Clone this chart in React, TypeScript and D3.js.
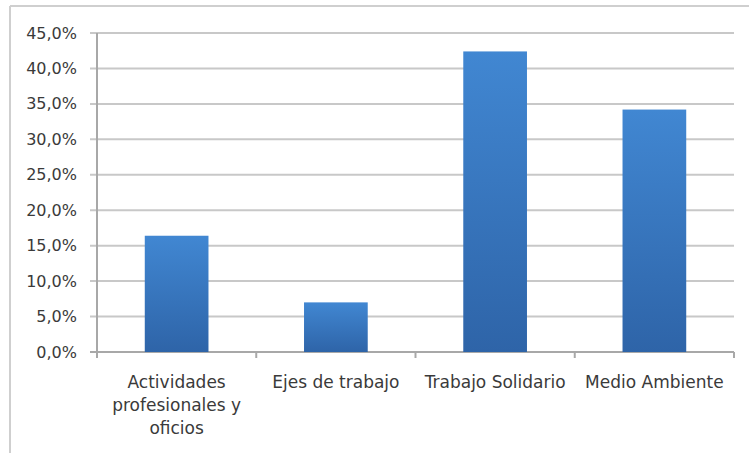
import React from "react";
import * as d3 from "d3";

const categories: string[][] = [
  ["Actividades", "profesionales y", "oficios"],
  ["Ejes de trabajo"],
  ["Trabajo Solidario"],
  ["Medio Ambiente"],
];
const values: number[] = [16.4, 7.0, 42.4, 34.2];
const yTicks: number[] = [0, 5, 10, 15, 20, 25, 30, 35, 40, 45];

const W = 749;
const H = 453;
const left = 97;
const right = 734;
const top = 33;
const bottom = 352;

export default function App() {
  const x = d3
    .scaleBand<number>()
    .domain(values.map((_, i) => i))
    .range([left, right])
    .paddingInner(0.6)
    .paddingOuter(0.3);
  const y = d3.scaleLinear().domain([0, 45]).range([bottom, top]);
  const step = (right - left) / values.length;
  const fmt = (v: number) => v.toFixed(1).replace(".", ",") + "%";
  const font = "'DejaVu Sans', sans-serif";
  const textColor = "#3a3a3a";

  return (
    <svg
      width={W}
      height={H}
      style={{ position: "absolute", left: 0, top: 0, background: "#fff" }}
    >
      <defs>
        <linearGradient id="barGrad" x1="0" y1="0" x2="0" y2="1">
          <stop offset="0%" stopColor="#4187d2" />
          <stop offset="100%" stopColor="#2e64a8" />
        </linearGradient>
      </defs>
      {/* frame */}
      <line x1={10} x2={W} y1={6} y2={6} stroke="#cfcfcf" strokeWidth={2} />
      <line x1={10} x2={10} y1={6} y2={H} stroke="#cfcfcf" strokeWidth={2} />
      {/* gridlines & y ticks */}
      {yTicks.map((t) => (
        <g key={t}>
          <line
            x1={90}
            x2={right}
            y1={y(t)}
            y2={y(t)}
            stroke={t === 0 ? "#a8a8a8" : "#c8c8c8"}
            strokeWidth={2}
          />
          <text
            x={77}
            y={y(t)}
            dy="0.35em"
            textAnchor="end"
            fontFamily={font}
            fontSize={16}
            fill={textColor}
          >
            {fmt(t)}
          </text>
        </g>
      ))}
      {/* y axis */}
      <line x1={left} x2={left} y1={top} y2={bottom} stroke="#a8a8a8" strokeWidth={2} />
      {/* x ticks */}
      {d3.range(values.length + 1).map((i) => (
        <line
          key={i}
          x1={left + i * step}
          x2={left + i * step}
          y1={bottom}
          y2={bottom + 6}
          stroke="#a8a8a8"
          strokeWidth={2}
        />
      ))}
      {/* bars */}
      {values.map((v, i) => (
        <rect
          key={i}
          x={x(i)}
          y={y(v)}
          width={x.bandwidth()}
          height={bottom - y(v)}
          fill="url(#barGrad)"
        />
      ))}
      {/* x labels */}
      {categories.map((lines, i) => (
        <text
          key={i}
          x={(x(i) as number) + x.bandwidth() / 2}
          y={388}
          textAnchor="middle"
          fontFamily={font}
          fontSize={17}
          fill={textColor}
        >
          {lines.map((l, j) => (
            <tspan key={j} x={(x(i) as number) + x.bandwidth() / 2} dy={j === 0 ? 0 : 23}>
              {l}
            </tspan>
          ))}
        </text>
      ))}
    </svg>
  );
}
